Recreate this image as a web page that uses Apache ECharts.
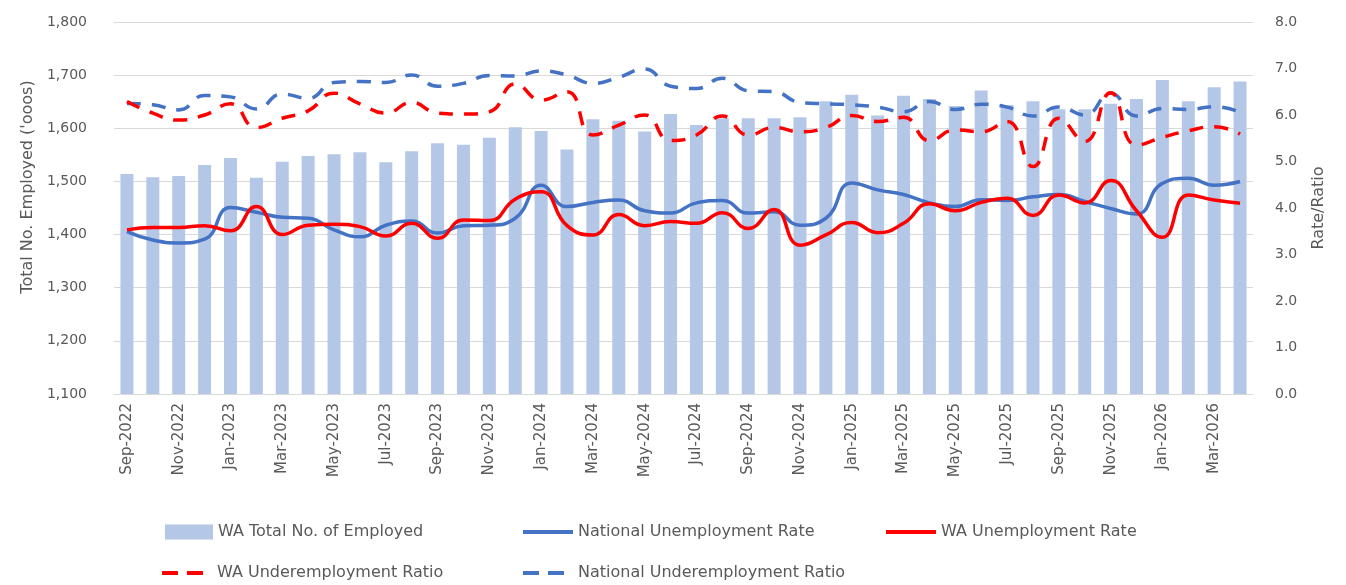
<!DOCTYPE html>
<html>
<head>
<meta charset="utf-8">
<title>WA Labour Force</title>
<script src="https://cdn.jsdelivr.net/npm/echarts@6/dist/echarts.min.js"></script>
<style>
  html, body { margin: 0; padding: 0; background: #ffffff; }
  #chart { width: 1346px; height: 585px; }
</style>
</head>
<body>
<div id="chart"></div>
<script>
// Months shown on the category axis
const months = [
  'Sep-2022','Oct-2022','Nov-2022','Dec-2022','Jan-2023','Feb-2023','Mar-2023','Apr-2023',
  'May-2023','Jun-2023','Jul-2023','Aug-2023','Sep-2023','Oct-2023','Nov-2023','Dec-2023',
  'Jan-2024','Feb-2024','Mar-2024','Apr-2024','May-2024','Jun-2024','Jul-2024','Aug-2024',
  'Sep-2024','Oct-2024','Nov-2024','Dec-2024','Jan-2025','Feb-2025','Mar-2025','Apr-2025',
  'May-2025','Jun-2025','Jul-2025','Aug-2025','Sep-2025','Oct-2025','Nov-2025','Dec-2025',
  'Jan-2026','Feb-2026','Mar-2026','Apr-2026'
];

// WA total employed ('000s)
const waEmployed = [
  1514, 1508, 1510, 1531, 1544, 1507, 1537, 1548,
  1551, 1555, 1536, 1557, 1572, 1569, 1582, 1602,
  1595, 1560, 1617, 1614, 1594, 1627, 1606, 1619,
  1619, 1619, 1621, 1651, 1663, 1624, 1661, 1655,
  1642, 1671, 1644, 1651, 1636, 1636, 1646, 1655,
  1691, 1651, 1677, 1688
];

// National unemployment rate (%)
const natUnemployment = [
  3.49, 3.31, 3.25, 3.33, 4.01, 3.91, 3.80, 3.78,
  3.53, 3.38, 3.63, 3.72, 3.46, 3.62, 3.63, 3.78,
  4.49, 4.03, 4.12, 4.17, 3.94, 3.89, 4.11, 4.16,
  3.89, 3.92, 3.63, 3.78, 4.54, 4.39, 4.29, 4.11,
  4.03, 4.18, 4.16, 4.24, 4.29, 4.14, 3.99, 3.87,
  4.53, 4.64, 4.49, 4.57
];

// WA unemployment rate (%)
const waUnemployment = [
  3.53, 3.58, 3.58, 3.62, 3.51, 4.03, 3.43, 3.63,
  3.65, 3.60, 3.40, 3.67, 3.35, 3.74, 3.73, 4.19,
  4.35, 3.62, 3.42, 3.86, 3.62, 3.71, 3.67, 3.90,
  3.56, 3.97, 3.20, 3.42, 3.69, 3.47, 3.67, 4.09,
  3.94, 4.12, 4.21, 3.84, 4.28, 4.11, 4.59, 3.94,
  3.37, 4.28, 4.17, 4.10
];

// WA underemployment ratio (%)
const waUnderemployment = [
  6.29, 6.04, 5.89, 6.00, 6.24, 5.73, 5.93, 6.09,
  6.47, 6.24, 6.04, 6.27, 6.04, 6.02, 6.07, 6.67,
  6.32, 6.50, 5.57, 5.78, 6.00, 5.45, 5.57, 5.98,
  5.57, 5.73, 5.64, 5.73, 5.99, 5.86, 5.95, 5.45,
  5.68, 5.64, 5.86, 4.89, 5.93, 5.43, 6.48, 5.35,
  5.52, 5.66, 5.75, 5.59
];

// National underemployment ratio (%)
const natUnderemployment = [
  6.25, 6.22, 6.11, 6.42, 6.39, 6.13, 6.45, 6.36,
  6.70, 6.72, 6.70, 6.86, 6.62, 6.68, 6.85, 6.84,
  6.95, 6.86, 6.68, 6.81, 6.99, 6.62, 6.57, 6.79,
  6.52, 6.50, 6.27, 6.24, 6.22, 6.17, 6.07, 6.29,
  6.12, 6.23, 6.17, 5.98, 6.17, 6.00, 6.47, 5.98,
  6.14, 6.12, 6.18, 6.06
];

const FONT = 'DejaVu Sans';
const TEXT = '#595959';
const GRID = '#d9d9d9';
const BLUE = '#4472C4';
const RED = '#FF0000';
const BAR = '#B4C7E7';

// Legend swatches: a 50x15 box holding a 4px stroke (solid or two dashes);
// the zero-width segment only fixes the box so the stroke is not stretched.
const ICON_SOLID = 'path://M0,5.5h50v4h-50z M0,0L0,15 M50,0L50,15';
const ICON_DASH = 'path://M0,5.5h16v4h-16z M25,5.5h16v4h-16z M0,0L0,15 M50,0L50,15';

const chart = echarts.init(document.getElementById('chart'), null, { renderer: 'canvas' });

function legendAt(name, left, top, icon, width) {
  return {
    data: [name], left: left, top: top, padding: 0,
    icon: icon, itemWidth: width, itemHeight: 15, itemGap: 0,
    textStyle: { fontFamily: FONT, fontSize: 16, color: TEXT }
  };
}

function lineSeries(name, data, color, dashed) {
  return {
    name: name, type: 'line', yAxisIndex: 1, data: data,
    smooth: 0.5, symbol: 'none', showSymbol: false,
    lineStyle: { color: color, width: 3.5, type: dashed ? [14, 11] : 'solid' },
    itemStyle: { color: color }
  };
}

chart.setOption({
  animation: false,
  textStyle: { fontFamily: FONT },
  grid: { left: 114, right: 93, top: 22, bottom: 191, containLabel: false },
  legend: [
    legendAt('WA Total No. of Employed', 165, 524, 'rect', 48),
    legendAt('National Unemployment Rate', 523, 524, ICON_SOLID, 50),
    legendAt('WA Unemployment Rate', 886, 524, ICON_SOLID, 50),
    legendAt('WA Underemployment Ratio', 162, 565, ICON_DASH, 50),
    legendAt('National Underemployment Ratio', 523, 565, ICON_DASH, 50)
  ],
  xAxis: {
    type: 'category', data: months, boundaryGap: true,
    axisLine: { lineStyle: { color: GRID, width: 1 } },
    axisTick: { interval: 1, length: 6, lineStyle: { color: GRID } },
    axisLabel: { interval: 1, rotate: 90, margin: 9, fontFamily: FONT, fontSize: 15, color: TEXT }
  },
  yAxis: [
    {
      type: 'value', min: 1100, max: 1800, interval: 100,
      name: "Total No. Employed ('ooos)", nameLocation: 'middle', nameRotate: 90, nameGap: 78,
      nameTextStyle: { fontFamily: FONT, fontSize: 16, color: TEXT, padding: [0, 0, 0, 42] },
      axisLine: { show: false }, axisTick: { show: false },
      splitLine: { lineStyle: { color: GRID, width: 1 } },
      axisLabel: {
        margin: 27, fontFamily: FONT, fontSize: 14, color: TEXT,
        formatter: v => v.toLocaleString('en-US')
      }
    },
    {
      type: 'value', min: 0, max: 8, interval: 1, position: 'right',
      name: 'Rate/Ratio', nameLocation: 'middle', nameRotate: 90, nameGap: 58,
      nameTextStyle: { fontFamily: FONT, fontSize: 16, color: TEXT },
      axisLine: { show: false }, axisTick: { show: false }, splitLine: { show: false },
      axisLabel: {
        margin: 22, fontFamily: FONT, fontSize: 14, color: TEXT,
        formatter: v => v.toFixed(1)
      }
    }
  ],
  series: [
    {
      name: 'WA Total No. of Employed', type: 'bar', yAxisIndex: 0, data: waEmployed,
      barWidth: 13, itemStyle: { color: BAR }
    },
    lineSeries('National Unemployment Rate', natUnemployment, BLUE, false),
    lineSeries('National Underemployment Ratio', natUnderemployment, BLUE, true),
    lineSeries('WA Underemployment Ratio', waUnderemployment, RED, true),
    lineSeries('WA Unemployment Rate', waUnemployment, RED, false)
  ]
});
</script>
</body>
</html>
